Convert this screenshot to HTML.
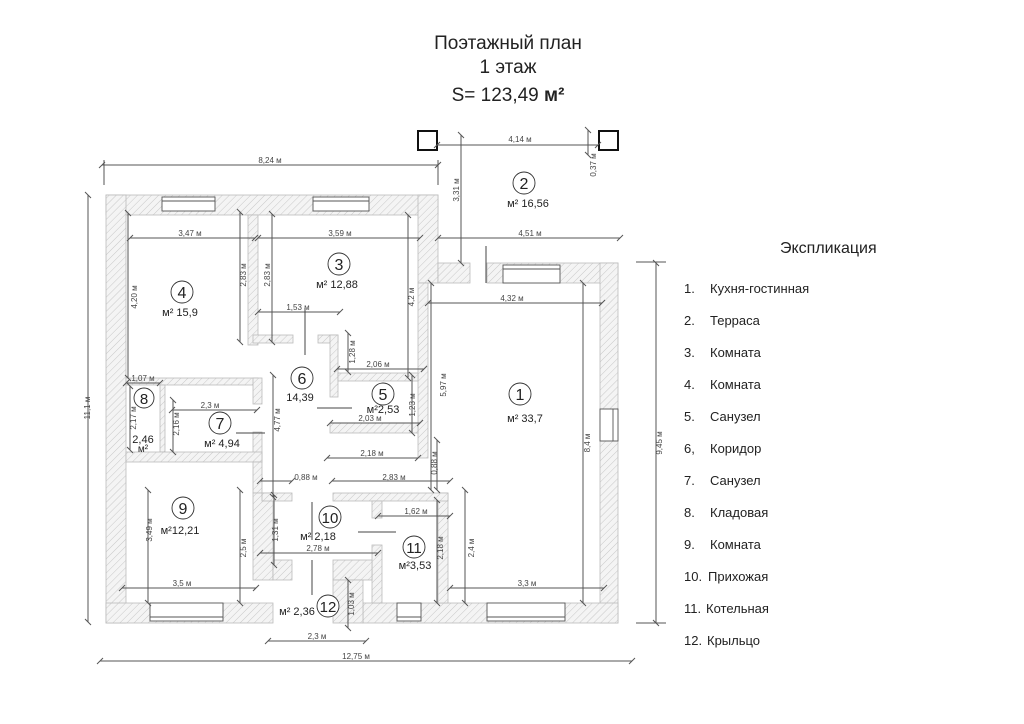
<!DOCTYPE html>
<html><head><meta charset="utf-8"><style>
body{margin:0;background:#fff;}
svg{display:block;font-family:"Liberation Sans",sans-serif;}
.t{font-family:"Liberation Sans",sans-serif;fill:#222;}
.d{stroke:#555;stroke-width:1;marker-start:url(#tk);marker-end:url(#tk);}
.dl{font-size:8px;fill:#444;}
.w{fill:url(#h);stroke:#bbb;stroke-width:0.8;}
.c{fill:#fff;stroke:#333;stroke-width:0.9;}
.lg{font-size:13px;fill:#222;}
</style></head><body>
<svg width="1024" height="724" viewBox="0 0 1024 724">
<defs>
<pattern id="h" width="5" height="5" patternUnits="userSpaceOnUse" patternTransform="rotate(45)">
<rect width="5" height="5" fill="#f4f4f4"/><line x1="0" y1="0" x2="0" y2="5" stroke="#c8c8c8" stroke-width="1"/></pattern>
<marker id="tk" markerWidth="10" markerHeight="10" refX="5" refY="5" markerUnits="userSpaceOnUse" orient="auto"><line x1="2" y1="8" x2="8" y2="2" stroke="#555" stroke-width="1"/></marker>
</defs>
<rect width="1024" height="724" fill="#fff"/>
<!-- title -->
<text x="508" y="49" text-anchor="middle" class="t" font-size="19">Поэтажный план</text>
<text x="508" y="73" text-anchor="middle" class="t" font-size="19">1 этаж</text>
<text x="508" y="101" text-anchor="middle" class="t" font-size="19">S= 123,49 <tspan font-weight="bold">м²</tspan></text>

<!-- outer walls -->
<rect class="w" x="106" y="195" width="332" height="20"/>
<rect class="w" x="106" y="195" width="20" height="428"/>
<rect class="w" x="106" y="603" width="167" height="20"/>
<rect class="w" x="418" y="195" width="20" height="88"/>
<rect class="w" x="418" y="283" width="10" height="175"/>
<rect class="w" x="438" y="263" width="32" height="20"/>
<rect class="w" x="487" y="263" width="131" height="20"/>
<rect class="w" x="600" y="263" width="18" height="360"/>
<rect class="w" x="363" y="603" width="255" height="20"/>
<rect class="w" x="438" y="493" width="10" height="110"/>
<!-- interior walls -->
<rect class="w" x="248" y="215" width="10" height="130"/>
<rect class="w" x="253" y="335" width="40" height="8"/>
<rect class="w" x="318" y="335" width="20" height="8"/>
<rect class="w" x="330" y="335" width="8" height="62"/>
<rect class="w" x="338" y="373" width="80" height="8"/>
<rect class="w" x="330" y="423" width="88" height="10"/>
<rect class="w" x="126" y="378" width="132" height="7"/>
<rect class="w" x="160" y="385" width="5" height="67"/>
<rect class="w" x="253" y="378" width="9" height="26"/>
<rect class="w" x="253" y="432" width="9" height="30"/>
<rect class="w" x="126" y="452" width="136" height="10"/>
<rect class="w" x="253" y="462" width="9" height="31"/>
<rect class="w" x="253" y="493" width="20" height="87"/>
<rect class="w" x="262" y="493" width="30" height="8"/>
<rect class="w" x="333" y="493" width="115" height="8"/>
<rect class="w" x="372" y="501" width="10" height="17"/>
<rect class="w" x="372" y="545" width="10" height="58"/>
<rect class="w" x="333" y="560" width="39" height="20"/>
<rect class="w" x="333" y="580" width="30" height="43"/>
<rect class="w" x="273" y="560" width="19" height="20"/>
<!-- windows -->
<g fill="#fff" stroke="#555" stroke-width="0.9">
<rect x="162" y="197" width="53" height="14"/><line x1="162" y1="201" x2="215" y2="201"/>
<rect x="313" y="197" width="56" height="14"/><line x1="313" y1="201" x2="369" y2="201"/>
<rect x="503" y="265" width="57" height="18"/><line x1="503" y1="269" x2="560" y2="269"/>
<rect x="600" y="409" width="18" height="32"/><line x1="613" y1="409" x2="613" y2="441"/>
<rect x="150" y="603" width="73" height="18"/><line x1="150" y1="617" x2="223" y2="617"/>
<rect x="487" y="603" width="78" height="18"/><line x1="487" y1="617" x2="565" y2="617"/>
<rect x="397" y="603" width="24" height="18"/><line x1="397" y1="617" x2="421" y2="617"/>
</g>
<!-- terrace posts -->
<rect x="418" y="131" width="19" height="19" fill="#fff" stroke="#111" stroke-width="2"/>
<rect x="599" y="131" width="19" height="19" fill="#fff" stroke="#111" stroke-width="2"/>
<line x1="486" y1="246" x2="486" y2="283" stroke="#444"/>

<!-- dimension lines -->
<g>
<line class="d" x1="102" y1="165" x2="438" y2="165"/><text class="dl" x="270" y="163" text-anchor="middle">8,24 м</text>
<line x1="104" y1="160" x2="104" y2="185" stroke="#555"/><line x1="438" y1="160" x2="438" y2="185" stroke="#555"/>
<line class="d" x1="437" y1="145" x2="598" y2="145"/><text class="dl" x="520" y="142" text-anchor="middle">4,14 м</text>
<line class="d" x1="588" y1="130" x2="588" y2="155"/><text class="dl" x="596" y="165" transform="rotate(-90 596 165)" text-anchor="middle">0,37 м</text>
<line class="d" x1="461" y1="135" x2="461" y2="263"/><text class="dl" x="459" y="190" transform="rotate(-90 459 190)" text-anchor="middle">3,31 м</text>
<line class="d" x1="438" y1="238" x2="620" y2="238"/><text class="dl" x="530" y="236" text-anchor="middle">4,51 м</text>
<line class="d" x1="130" y1="238" x2="255" y2="238"/><text class="dl" x="190" y="236" text-anchor="middle">3,47 м</text>
<line class="d" x1="258" y1="238" x2="420" y2="238"/><text class="dl" x="340" y="236" text-anchor="middle">3,59 м</text>
<line class="d" x1="128" y1="213" x2="128" y2="378"/><text class="dl" x="137" y="297" transform="rotate(-90 137 297)" text-anchor="middle">4,20 м</text>
<line class="d" x1="240" y1="212" x2="240" y2="342"/><text class="dl" x="246" y="275" transform="rotate(-90 246 275)" text-anchor="middle">2,83 м</text>
<line class="d" x1="272" y1="214" x2="272" y2="342"/><text class="dl" x="270" y="275" transform="rotate(-90 270 275)" text-anchor="middle">2,83 м</text>
<line class="d" x1="408" y1="215" x2="408" y2="378"/><text class="dl" x="414" y="297" transform="rotate(-90 414 297)" text-anchor="middle">4,2 м</text>
<line class="d" x1="258" y1="312" x2="340" y2="312"/><text class="dl" x="298" y="310" text-anchor="middle">1,53 м</text>
<line class="d" x1="348" y1="333" x2="348" y2="372"/><text class="dl" x="355" y="352" transform="rotate(-90 355 352)" text-anchor="middle">1,28 м</text>
<line class="d" x1="337" y1="369" x2="424" y2="369"/><text class="dl" x="378" y="367" text-anchor="middle">2,06 м</text>
<line class="d" x1="412" y1="375" x2="412" y2="433"/><text class="dl" x="415" y="405" transform="rotate(-90 415 405)" text-anchor="middle">1,23 м</text>
<line class="d" x1="431" y1="283" x2="431" y2="490"/><text class="dl" x="446" y="385" transform="rotate(-90 446 385)" text-anchor="middle">5,97 м</text>
<line class="d" x1="428" y1="303" x2="602" y2="303"/><text class="dl" x="512" y="301" text-anchor="middle">4,32 м</text>
<line class="d" x1="330" y1="423" x2="420" y2="423"/><text class="dl" x="370" y="421" text-anchor="middle">2,03 м</text>
<line class="d" x1="327" y1="458" x2="418" y2="458"/><text class="dl" x="372" y="456" text-anchor="middle">2,18 м</text>
<line class="d" x1="437" y1="440" x2="437" y2="490"/><text class="dl" x="437" y="463" transform="rotate(-90 437 463)" text-anchor="middle">0,88 м</text>
<line class="d" x1="126" y1="383" x2="160" y2="383"/><text class="dl" x="143" y="381" text-anchor="middle">1,07 м</text>
<line class="d" x1="130" y1="386" x2="130" y2="450"/><text class="dl" x="136" y="418" transform="rotate(-90 136 418)" text-anchor="middle">2,17 м</text>
<line class="d" x1="172" y1="410" x2="257" y2="410"/><text class="dl" x="210" y="408" text-anchor="middle">2,3 м</text>
<line class="d" x1="173" y1="400" x2="173" y2="452"/><text class="dl" x="179" y="424" transform="rotate(-90 179 424)" text-anchor="middle">2,16 м</text>
<line class="d" x1="273" y1="375" x2="273" y2="497"/><text class="dl" x="280" y="420" transform="rotate(-90 280 420)" text-anchor="middle">4,77 м</text>
<line class="d" x1="260" y1="481" x2="292" y2="481"/><text class="dl" x="306" y="480" text-anchor="middle">0,88 м</text>
<line class="d" x1="332" y1="481" x2="450" y2="481"/><text class="dl" x="394" y="480" text-anchor="middle">2,83 м</text>
<line class="d" x1="148" y1="490" x2="148" y2="603"/><text class="dl" x="152" y="530" transform="rotate(-90 152 530)" text-anchor="middle">3,49 м</text>
<line class="d" x1="240" y1="490" x2="240" y2="603"/><text class="dl" x="246" y="548" transform="rotate(-90 246 548)" text-anchor="middle">2,5 м</text>
<line class="d" x1="122" y1="588" x2="256" y2="588"/><text class="dl" x="182" y="586" text-anchor="middle">3,5 м</text>
<line class="d" x1="274" y1="495" x2="274" y2="565"/><text class="dl" x="278" y="530" transform="rotate(-90 278 530)" text-anchor="middle">1,31 м</text>
<line class="d" x1="260" y1="553" x2="378" y2="553"/><text class="dl" x="318" y="551" text-anchor="middle">2,78 м</text>
<line class="d" x1="378" y1="516" x2="450" y2="516"/><text class="dl" x="416" y="514" text-anchor="middle">1,62 м</text>
<line class="d" x1="437" y1="500" x2="437" y2="603"/><text class="dl" x="443" y="548" transform="rotate(-90 443 548)" text-anchor="middle">2,18 м</text>
<line class="d" x1="465" y1="490" x2="465" y2="603"/><text class="dl" x="474" y="548" transform="rotate(-90 474 548)" text-anchor="middle">2,4 м</text>
<line class="d" x1="450" y1="588" x2="604" y2="588"/><text class="dl" x="527" y="586" text-anchor="middle">3,3 м</text>
<line class="d" x1="583" y1="283" x2="583" y2="603"/><text class="dl" x="590" y="443" transform="rotate(-90 590 443)" text-anchor="middle">8,4 м</text>
<line class="d" x1="348" y1="580" x2="348" y2="628"/><text class="dl" x="354" y="604" transform="rotate(-90 354 604)" text-anchor="middle">1,03 м</text>
<line class="d" x1="268" y1="641" x2="366" y2="641"/><text class="dl" x="317" y="639" text-anchor="middle">2,3 м</text>
<line class="d" x1="100" y1="661" x2="632" y2="661"/><text class="dl" x="356" y="659" text-anchor="middle" fill="#999">12,75 м</text>
<line class="d" x1="88" y1="195" x2="88" y2="622"/><text class="dl" x="90" y="408" transform="rotate(-90 90 408)" text-anchor="middle" fill="#999">11,1 м</text>
<line class="d" x1="656" y1="263" x2="656" y2="623"/><text class="dl" x="662" y="443" transform="rotate(-90 662 443)" text-anchor="middle" fill="#999">9,45 м</text>
<line x1="636" y1="262" x2="666" y2="262" stroke="#555"/><line x1="636" y1="623" x2="666" y2="623" stroke="#555"/>
<line x1="305" y1="308" x2="305" y2="355" stroke="#444"/>
<line x1="317" y1="408" x2="352" y2="408" stroke="#444"/>
<line x1="236" y1="433" x2="265" y2="433" stroke="#444"/>
<line x1="312" y1="502" x2="312" y2="540" stroke="#444"/>
<line x1="358" y1="532" x2="396" y2="532" stroke="#444"/>
<line x1="312" y1="560" x2="312" y2="595" stroke="#444"/>
</g>

<!-- room labels -->
<g font-size="13" class="t">
<circle class="c" cx="524" cy="183" r="11"/><text x="524" y="189" text-anchor="middle" font-size="16">2</text>
<text x="528" y="207" text-anchor="middle" font-size="11">м² 16,56</text>
<circle class="c" cx="339" cy="264" r="11"/><text x="339" y="270" text-anchor="middle" font-size="16">3</text>
<text x="337" y="288" text-anchor="middle" font-size="11">м² 12,88</text>
<circle class="c" cx="182" cy="292" r="11"/><text x="182" y="298" text-anchor="middle" font-size="16">4</text>
<text x="180" y="316" text-anchor="middle" font-size="11">м² 15,9</text>
<circle class="c" cx="302" cy="378" r="11"/><text x="302" y="384" text-anchor="middle" font-size="16">6</text>
<text x="300" y="401" text-anchor="middle" font-size="11">14,39</text>
<circle class="c" cx="383" cy="394" r="11"/><text x="383" y="400" text-anchor="middle" font-size="16">5</text>
<text x="383" y="413" text-anchor="middle" font-size="11">м²2,53</text>
<circle class="c" cx="520" cy="394" r="11"/><text x="520" y="400" text-anchor="middle" font-size="16">1</text>
<text x="525" y="422" text-anchor="middle" font-size="11">м² 33,7</text>
<circle class="c" cx="144" cy="398" r="10"/><text x="144" y="404" text-anchor="middle" font-size="15">8</text>
<text x="143" y="443" text-anchor="middle" font-size="11">2,46</text>
<text x="143" y="452" text-anchor="middle" font-size="10">м²</text>
<circle class="c" cx="220" cy="423" r="11"/><text x="220" y="429" text-anchor="middle" font-size="16">7</text>
<text x="222" y="447" text-anchor="middle" font-size="11">м² 4,94</text>
<circle class="c" cx="183" cy="508" r="11"/><text x="183" y="514" text-anchor="middle" font-size="16">9</text>
<text x="180" y="534" text-anchor="middle" font-size="11">м²12,21</text>
<circle class="c" cx="330" cy="517" r="11"/><text x="330" y="523" text-anchor="middle" font-size="15">10</text>
<text x="318" y="540" text-anchor="middle" font-size="11">м² 2,18</text>
<circle class="c" cx="414" cy="547" r="11"/><text x="414" y="553" text-anchor="middle" font-size="15">11</text>
<text x="415" y="569" text-anchor="middle" font-size="11">м²3,53</text>
<circle class="c" cx="328" cy="606" r="11"/><text x="328" y="612" text-anchor="middle" font-size="15">12</text>
<text x="297" y="615" text-anchor="middle" font-size="11">м² 2,36</text>
</g>

<!-- legend -->
<text x="780" y="253" class="t" font-size="16">Экспликация</text>
<g class="lg">
<text x="684" y="293">1.</text><text x="710" y="293">Кухня-гостинная</text>
<text x="684" y="325">2.</text><text x="710" y="325">Терраса</text>
<text x="684" y="357">3.</text><text x="710" y="357">Комната</text>
<text x="684" y="389">4.</text><text x="710" y="389">Комната</text>
<text x="684" y="421">5.</text><text x="710" y="421">Санузел</text>
<text x="684" y="453">6,</text><text x="710" y="453">Коридор</text>
<text x="684" y="485">7.</text><text x="710" y="485">Санузел</text>
<text x="684" y="517">8.</text><text x="710" y="517">Кладовая</text>
<text x="684" y="549">9.</text><text x="710" y="549">Комната</text>
<text x="684" y="581">10.</text><text x="708" y="581">Прихожая</text>
<text x="684" y="613">11.</text><text x="706" y="613">Котельная</text>
<text x="684" y="645">12.</text><text x="707" y="645">Крыльцо</text>
</g>
</svg>
</body></html>
